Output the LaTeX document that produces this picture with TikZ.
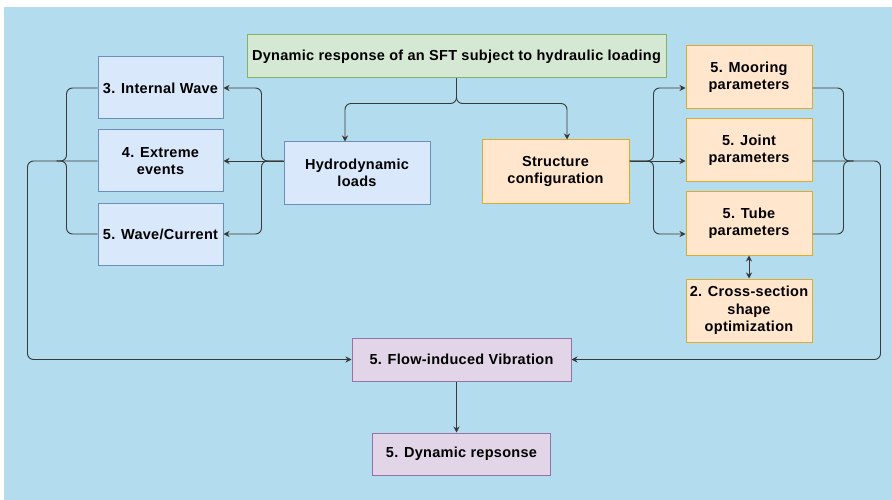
\documentclass[tikz,border=0pt]{standalone}
\usepackage{fontspec}
\setmainfont{Liberation Sans}
\newfontfamily\boxfont[LetterSpace=2.0]{Liberation Sans}
\usetikzlibrary{arrows.meta}

\definecolor{bgblue}{HTML}{B3DCEE}
\definecolor{blufill}{HTML}{DAE8FC}
\definecolor{bluline}{HTML}{6C8EBF}
\definecolor{grnfill}{HTML}{D5E8D4}
\definecolor{grnline}{HTML}{82B366}
\definecolor{orgfill}{HTML}{FFE6CC}
\definecolor{orgline}{HTML}{E0AA2A}
\definecolor{purfill}{HTML}{E1D5E7}
\definecolor{purline}{HTML}{9673A6}
\definecolor{wire}{HTML}{383838}

\begin{document}
\begin{tikzpicture}[x=1pt, y=-1pt,
    box/.style={draw, line width=1pt, align=center, inner sep=0pt,
        font=\boxfont\bfseries\fontsize{14.5}{17.5}\selectfont},
    blubox/.style={box, fill=blufill, draw=bluline},
    grnbox/.style={box, fill=grnfill, draw=grnline},
    orgbox/.style={box, fill=orgfill, draw=orgline},
    purbox/.style={box, fill=purfill, draw=purline},
    ln/.style={draw=wire, line width=0.9pt},
    arr/.style={ln, -{Stealth[length=6pt,width=6pt]}},
    rc/.style={rounded corners=6pt}]

    \useasboundingbox (0,0) rectangle (892,500);
    \fill[white] (0,0) rectangle (892,500);
    \fill[bgblue] (4,7) rectangle (892,500);

    \node[grnbox, minimum width=419, minimum height=43] (title) at (456.5,56.5)
        {Dynamic response of an SFT subject to hydraulic loading};

    \node[blubox, minimum width=125, minimum height=62] (iw) at (160.5,88) {3. Internal Wave};
    \node[blubox, minimum width=125, minimum height=62] (ee) at (160.5,161) {4. Extreme\\events};
    \node[blubox, minimum width=125, minimum height=62] (wc) at (160.5,234) {5. Wave/Current};
    \node[blubox, minimum width=146, minimum height=62] (hydro) at (357,173) {Hydrodynamic\\loads};

    \node[orgbox, minimum width=147, minimum height=63] (struct) at (555.5,171.5) {Structure\\configuration};
    \node[orgbox, minimum width=126, minimum height=63] (moor) at (749,77.5) {5. Mooring\\parameters};
    \node[orgbox, minimum width=126, minimum height=63] (joint) at (749,150.5) {5. Joint\\parameters};
    \node[orgbox, minimum width=126, minimum height=63] (tube) at (749,223.5) {5. Tube\\parameters};
    \node[orgbox, minimum width=126, minimum height=63] (cross) at (749,310.5) {2. Cross-section\\shape\\optimization};

    \node[purbox, minimum width=219, minimum height=43] (fiv) at (461.5,359.5) {5. Flow-induced Vibration};
    \node[purbox, minimum width=178, minimum height=42] (dyn) at (461.5,454) {5. Dynamic repsonse};

    % title splits into loads and structure
    \draw[arr, rc] (title.south) -- ++(0,25) -| ([xshift=-12]hydro.north);
    \draw[arr, rc] (title.south) -- ++(0,25) -| ([xshift=11.5]struct.north);

    % hydrodynamic loads
    \draw[arr] (hydro.west |- ee.east) -- (ee.east);
    \draw[arr, rc] (hydro.west |- ee.east) -- ++(-22,0) |- (iw.east);
    \draw[arr, rc] (hydro.west |- ee.east) -- ++(-22,0) |- (wc.east);

    \draw[ln, rc] (iw.west) -- ++(-31,0) -- ++(0,73) -- ++(-10,0);
    \draw[ln, rc] (wc.west) -- ++(-31,0) -- ++(0,-73) -- ++(-10,0);
    \draw[arr, rc] (ee.west) -- ++(-70,0) |- (fiv.west);

    % structure parameters
    \draw[arr] ([yshift=10.5]struct.east) -- ([yshift=-10.5]joint.west);
    \draw[arr, rc] ([yshift=10.5]struct.east) -- ++(24,0) |- ([yshift=-10.5]moor.west);
    \draw[arr, rc] ([yshift=10.5]struct.east) -- ++(24,0) |- ([yshift=-10.5]tube.west);

    \draw[ln, rc] ([yshift=-10.5]moor.east) -- ++(31,0) -- ++(0,73) -- ++(10,0);
    \draw[ln, rc] ([yshift=-10.5]tube.east) -- ++(31,0) -- ++(0,-73) -- ++(10,0);
    \draw[arr, rc] ([yshift=-10.5]joint.east) -- ++(68,0) |- (fiv.east);

    \draw[ln, {Stealth[length=6pt,width=6pt]}-{Stealth[length=6pt,width=6pt]}] (tube.south) -- (cross.north);

    \draw[arr] ([xshift=-5]fiv.south) -- ([xshift=-5]dyn.north);

\end{tikzpicture}
\end{document}
